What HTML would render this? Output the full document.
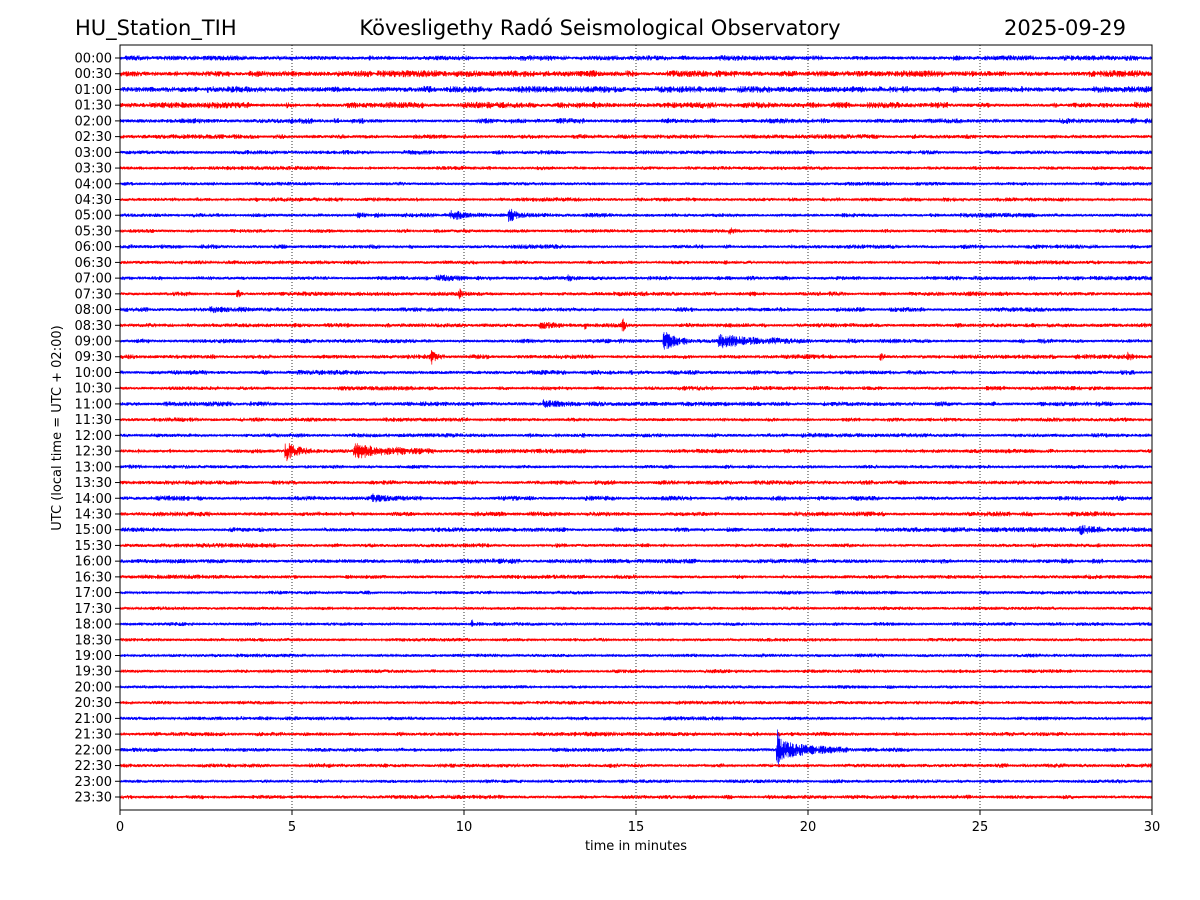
<!DOCTYPE html>
<html><head><meta charset="utf-8"><style>
html,body{margin:0;padding:0;background:#fff;}
svg{display:block;font-family:"DejaVu Sans","Liberation Sans",sans-serif;}
</style></head><body>
<svg id="chart" width="1200" height="900" viewBox="0 0 1200 900" xmlns="http://www.w3.org/2000/svg">
<rect width="1200" height="900" fill="#fff"/>
<text x="75" y="35" font-size="21">HU_Station_TIH</text>
<text x="600" y="35" font-size="21" text-anchor="middle">Kövesligethy Radó Seismological Observatory</text>
<text x="1126" y="35" font-size="21" text-anchor="end">2025-09-29</text>
<g id="grid"></g>
<g id="traces"></g>
<rect x="120" y="45" width="1032" height="765" fill="none" stroke="#000" stroke-width="1"/>
<g id="xaxis"></g>
<g id="yaxis"></g>
<text x="636" y="850" font-size="13" text-anchor="middle">time in minutes</text>
<text transform="translate(61,428) rotate(-90)" font-size="13" text-anchor="middle">UTC (local time = UTC + 02:00)</text>
</svg>
<script>
// ---- data ----
const rowLabels = ["00:00","00:30","01:00","01:30","02:00","02:30","03:00","03:30","04:00","04:30","05:00","05:30","06:00","06:30","07:00","07:30","08:00","08:30","09:00","09:30","10:00","10:30","11:00","11:30","12:00","12:30","13:00","13:30","14:00","14:30","15:00","15:30","16:00","16:30","17:00","17:30","18:00","18:30","19:00","19:30","20:00","20:30","21:00","21:30","22:00","22:30","23:00","23:30"];
const noiseAmp = [2.2,2.6,2.6,2.5,2.2,1.9,1.7,1.6,1.5,1.7,1.8,1.6,1.8,1.6,1.7,1.8,1.8,1.8,1.8,1.9,1.9,1.7,1.9,1.6,1.8,1.8,1.6,1.8,2.0,1.9,1.9,1.7,2.0,1.7,1.5,1.4,1.5,1.4,1.5,1.5,1.4,1.5,1.6,1.7,1.6,1.7,1.5,1.7];
const xTicks = [0,5,10,15,20,25,30];
const gridMinutes = [5,10,15,20,25];
// events: row index, onset minute, peak amplitude (px), decay (minutes)
const evRow  = [10, 10,  10,   11,  14,  14,  15,  15,  16,  17,   17,   17,  18,   18,  19,  19,   19,  22,   25,  25,  28,  30,  36,   44,   44];
const evMin  = [6.9,9.6,11.3,17.7,9.2,13.0,3.4, 9.85,2.6, 12.2, 13.5, 14.6,15.8,17.4, 9.05,22.1,29.3,12.3, 4.8, 6.8, 7.3,27.9,10.2, 19.1, 19.15];
const evAmp  = [3.5,3.5,7,   3,   3,   3,   8,   5,   2.5,  3,    4,    7,   10,  6.5,  7,   4,   4,   3.5,  10,  7,   3,   3.5, 6,    34,   9];
const evDec  = [0.2,0.6,0.15,0.2, 0.4, 0.25,0.06,0.08,0.6,  0.5,  0.08, 0.08,0.35,1.0,  0.08,0.12,0.12,0.6,  0.35,1.0, 0.3, 0.4, 0.06, 0.04, 0.9];
const colors = ["#0000ff","#ff0000"];

// ---- axis functions ----
const X0=120, X1=1152, Y0=58, DY=(797-58)/47;
const xScale = m => X0 + (m/30)*(X1-X0);
const yRow = i => Y0 + i*DY;
const NS="http://www.w3.org/2000/svg";
function mk(tag, attrs){const e=document.createElementNS(NS,tag);for(const k in attrs)e.setAttribute(k,attrs[k]);return e;}

const grid=document.getElementById('grid');
gridMinutes.forEach(m=>{
  const l=mk('line',{x1:xScale(m),x2:xScale(m),y1:45,y2:810,stroke:'#000','stroke-width':0.8,'stroke-dasharray':'1,2'});
  
  
  grid.appendChild(l);
});
const xa=document.getElementById('xaxis');
xTicks.forEach(m=>{
  const t=mk('line',{x1:xScale(m),x2:xScale(m),y1:810,y2:815,stroke:'#000'});
  
  
  xa.appendChild(t);
  const tx=mk('text',{x:xScale(m),y:831,'font-size':13,'text-anchor':'middle'});
  tx.textContent=m;
  
  
  xa.appendChild(tx);
});
const ya=document.getElementById('yaxis');
rowLabels.forEach((lab,i)=>{
  const t=mk('line',{x1:115,x2:120,y1:yRow(i),y2:yRow(i),stroke:'#000'});
  
  
  ya.appendChild(t);
  const tx=mk('text',{x:112,y:yRow(i)+4.5,'font-size':13,'text-anchor':'end'});
  tx.textContent=lab;
  
  
  ya.appendChild(tx);
});

// fixed seeded pattern for unreadable noise texture
let seed=12345;
function rnd(){seed=(seed*1664525+1013904223)%4294967296;return seed/4294967296;}

const tr=document.getElementById('traces');
const STEP=0.34;
rowLabels.forEach((lab,i)=>{
  const y=yRow(i);
  let d='';
  let slow=1, sgn=1;
  for(let px=0;px<=X1-X0;px+=STEP){
    const m=px/(X1-X0)*30;
    if(rnd()<0.03) slow=0.6+rnd()*0.8;
    let a=noiseAmp[i]*slow;
    for(let k=0;k<evRow.length;k++){
      if(evRow[k]!==i) continue;
      const dt=m-evMin[k];
      if(dt>=-0.02){
        const rise=Math.min(1,(dt+0.02)/0.02);
        a+=evAmp[k]*rise*Math.exp(-Math.max(0,dt)/evDec[k]);
      }
    }
    sgn=-sgn;
    const v=sgn*(0.15+0.85*rnd())*a;
    d+=(px===0?'M':'L')+(X0+px).toFixed(1)+','+(y+v).toFixed(2);
  }
  const p=mk('path',{d:d,fill:'none',stroke:colors[i%2],'stroke-width':0.7});
  
  
  tr.appendChild(p);
});
</script>
</body></html>
